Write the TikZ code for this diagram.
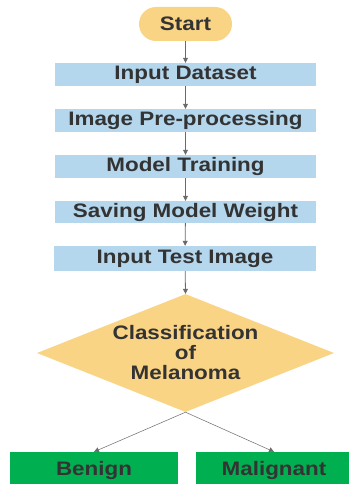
\documentclass[tikz,border=0pt]{standalone}
\usepackage{fontspec}
\setmainfont{Liberation Sans}[FakeStretch=1.15]
\usetikzlibrary{shapes.geometric,arrows.meta}
\definecolor{bluebox}{HTML}{B4D7EE}
\definecolor{yellowbox}{HTML}{FAD485}
\definecolor{greenbox}{HTML}{00B050}
\definecolor{txt}{HTML}{333333}
\definecolor{arr}{HTML}{6A6A6A}
\begin{document}
\begin{tikzpicture}[x=1pt,y=-1pt,
  lbl/.style={font=\fontsize{19.5}{20}\selectfont\bfseries, text=txt, inner sep=0pt},
  stepbox/.style={lbl, rectangle, fill=bluebox, minimum width=261pt},
  startbox/.style={lbl, rectangle, rounded corners=17pt, fill=yellowbox, minimum width=93pt, minimum height=34pt},
  decbox/.style={lbl, diamond, fill=yellowbox, aspect=2.52, minimum width=297pt, minimum height=118pt, align=center},
  outbox/.style={lbl, rectangle, fill=greenbox},
  conn/.style={draw=arr, line width=0.8pt, -{Triangle[width=5pt,length=5pt]}},
  conn2/.style={draw=arr, line width=0.5pt, -{Triangle[width=5pt,length=5pt]}}]
\useasboundingbox (0,0) rectangle (348,484);
\fill[white] (0,0) rectangle (348,484);
\node[startbox] (start) at (185.5,24) {Start};
\node[stepbox, minimum height=23pt] (s1) at (185.5,74.5) {Input Dataset};
\node[stepbox, minimum height=23pt] (s2) at (185.5,120.5) {Image Pre-processing};
\node[stepbox, minimum height=23pt] (s3) at (185.5,166.5) {Model Training};
\node[stepbox, minimum height=22pt] (s4) at (185.5,212) {Saving Model Weight};
\node[stepbox, minimum height=25pt, minimum width=262pt] (s5) at (185,258.5) {Input Test Image};
\node[decbox] (cls) at (185.5,353) {Classification\\of\\Melanoma};
\node[outbox, minimum width=168pt, minimum height=36pt] (ben) at (94,470) {Benign};
\node[outbox, minimum width=156pt, minimum height=36pt] (mal) at (274,470) {Malignant};
\draw[conn] (start) -- (s1);
\draw[conn] (s1) -- (s2);
\draw[conn] (s2) -- (s3);
\draw[conn] (s3) -- (s4);
\draw[conn] (s4) -- (s5);
\draw[conn] (s5) -- (cls.north);
\draw[conn2] (cls.south) -- (ben.north);
\draw[conn2] (cls.south) -- (mal.north);
\end{tikzpicture}
\end{document}
